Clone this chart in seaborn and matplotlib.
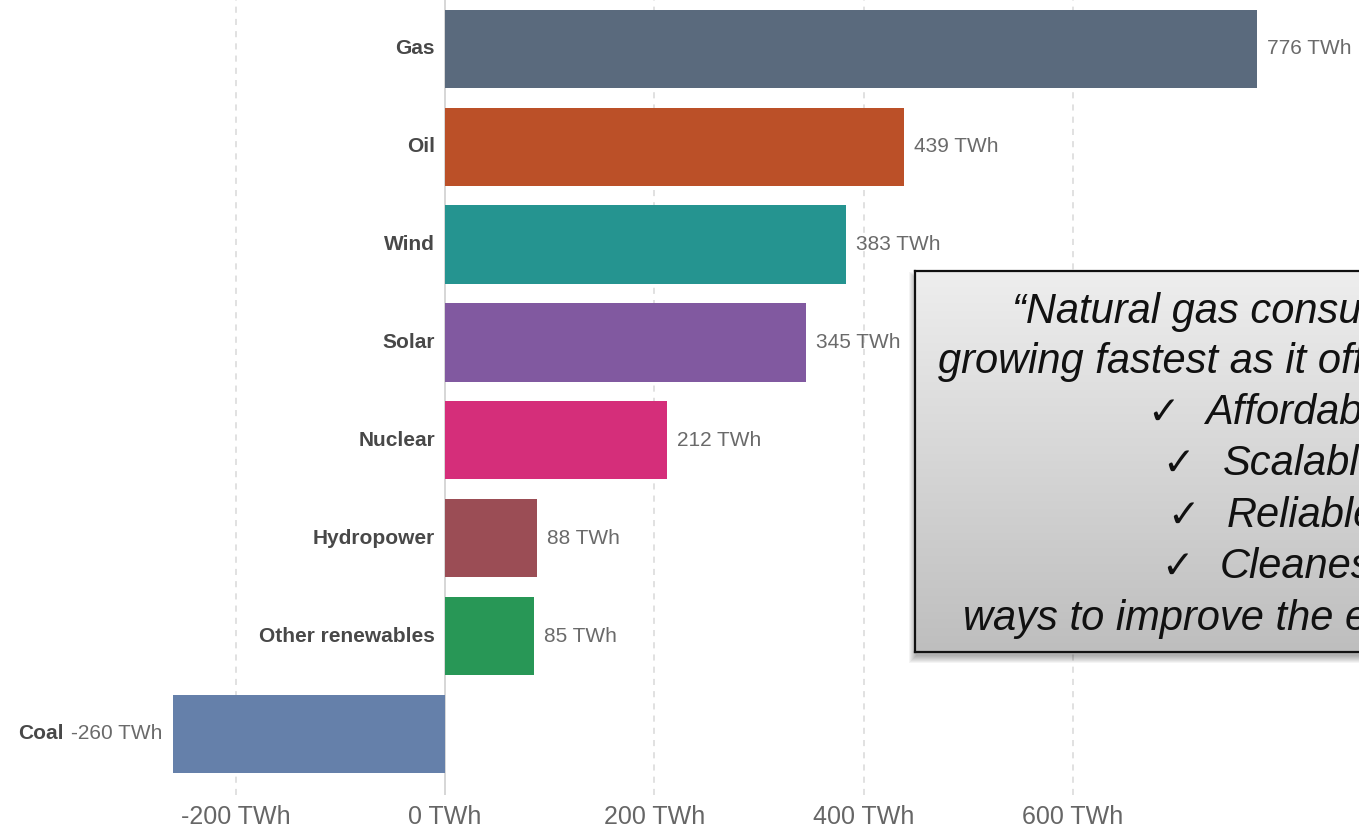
import matplotlib
matplotlib.use("Agg")
import matplotlib.pyplot as plt
import seaborn as sns
import numpy as np
import pandas as pd
from matplotlib.patches import Rectangle
from matplotlib.colors import LinearSegmentedColormap

# ---- data ----
categories = ["Gas", "Oil", "Wind", "Solar", "Nuclear", "Hydropower", "Other renewables", "Coal"]
values = [776, 439, 383, 345, 212, 88, 85, -260]
colors = ["#5a6a7d", "#bb5028", "#259490", "#8159a0", "#d52e7a", "#9b4d55", "#289756", "#6580aa"]
xticks = [-200, 0, 200, 400, 600]
xtick_labels = ["-200 TWh", "0 TWh", "200 TWh", "400 TWh", "600 TWh"]
quote_lines = ["\u201cNatural gas consumption is",
               "growing fastest as it offers the",
               "Affordable", "Scalable", "Reliable", "Cleanest",
               "ways to improve the environment.\u201d"]

W, H = 1359, 833
sns.set_style("white")
plt.rcParams['font.family'] = ['Liberation Sans', 'DejaVu Sans']

fig = plt.figure(figsize=(W / 100, H / 100), dpi=100)
ax = fig.add_axes([0, 1 - 795 / H, 1, 795 / H])

df = pd.DataFrame({"category": categories, "value": values})
sns.barplot(data=df, x="value", y="category", hue="category", order=categories,
            hue_order=categories, palette=colors, orient="h", width=0.8,
            legend=False, ax=ax, saturation=1, linewidth=0, zorder=2)

ax.set_xlim(-425.2, 873.4)
ax.set_ylim(7.625, -0.5)
ax.set_xticks(xticks)
ax.set_xticklabels(xtick_labels, fontsize=18, color="#666666")
ax.tick_params(axis="x", length=0, pad=7)
ax.set_yticks([])
ax.set_xlabel("")
ax.set_ylabel("")
for s in ax.spines.values():
    s.set_visible(False)
for xv in xticks:
    if xv == 0:
        ax.axvline(0, color="#cfcfcf", lw=1.2, zorder=1)
    else:
        ax.axvline(xv, color="#d8d8d8", lw=1.1, ls=(0, (4, 4)), zorder=1)

# value labels and category labels
fig.canvas.draw()
renderer = fig.canvas.get_renderer()
for i, (cat, v) in enumerate(zip(categories, values)):
    if v >= 0:
        ax.annotate(f"{v} TWh", (v, i), xytext=(7.2, 0), textcoords="offset points",
                    ha="left", va="center", fontsize=15, color="#6a6a6a", zorder=3)
        ax.annotate(cat, (0, i), xytext=(-7.2, 0), textcoords="offset points",
                    ha="right", va="center", fontsize=15, fontweight="bold",
                    color="#484848", zorder=3)
    else:
        t = ax.annotate(f"{v} TWh", (v, i), xytext=(-7.9, 0), textcoords="offset points",
                        ha="right", va="center", fontsize=15, color="#6a6a6a", zorder=3)
        fig.canvas.draw()
        bb = t.get_window_extent(renderer)
        x_disp = bb.x0 - 7
        xd = ax.transData.inverted().transform((x_disp, 0))[0]
        ax.text(xd, i, cat, ha="right", va="center", fontsize=15,
                fontweight="bold", color="#484848", zorder=3)

# ---- quote box ----
bx0, by_top, by_bot = 915, 271, 652
for k in range(8):
    pad = k
    fig.patches.append(Rectangle(((bx0 - pad + 1) / W, 1 - (by_bot + 4 + pad) / H),
                                 (W + 40) / W, (by_bot - by_top + 2 * pad - 4) / H,
                                 transform=fig.transFigure, facecolor="black",
                                 edgecolor="none", alpha=0.045, zorder=1.5))

box_ax = fig.add_axes([bx0 / W, 1 - by_bot / H, 1.0, (by_bot - by_top) / H], zorder=2)
grad = np.linspace(0, 1, 256).reshape(-1, 1)
cmap = LinearSegmentedColormap.from_list("g", ["#eeeeee", "#bebebe"])
box_ax.imshow(grad, aspect="auto", cmap=cmap, extent=[0, 1, 1, 0])
box_ax.set_xticks([])
box_ax.set_yticks([])
for s in box_ax.spines.values():
    s.set_color("#111111")
    s.set_linewidth(1.6)

def ftext(x, y, s, **kw):
    fig.text(x / W, 1 - y / H, s, va="baseline", ha="left", zorder=5, **kw)

qkw = dict(fontsize=30, style="italic", color="#111111", family=["Liberation Sans", "DejaVu Sans"])
ftext(1012, 323, quote_lines[0], **qkw)
ftext(938, 373, quote_lines[1], **qkw)
check_x = [1147, 1162, 1167, 1161]
word_x = [1205, 1223, 1227, 1220]
base_y = [424, 475, 527, 578]
for cx, wx, by, word in zip(check_x, word_x, base_y, quote_lines[2:6]):
    ftext(cx, by, "\u2713", fontsize=28, color="#111111", family=["DejaVu Sans"])
    ftext(wx, by, word, **qkw)
ftext(963, 630, quote_lines[6], **qkw)

fig.savefig("out.png", dpi=100)
